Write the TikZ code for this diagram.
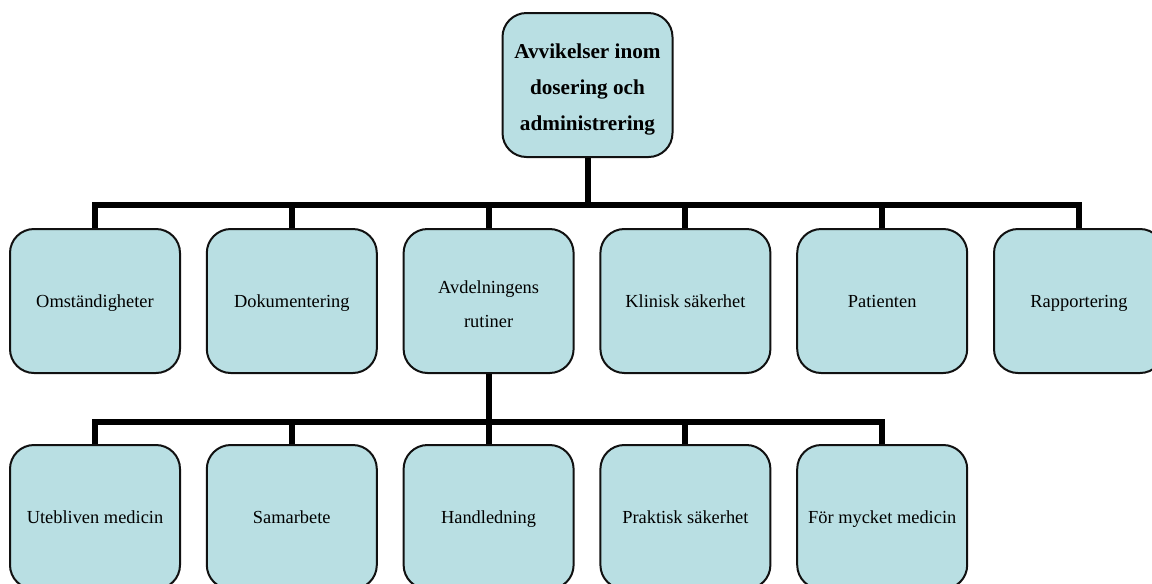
\documentclass[tikz,border=0pt]{standalone}
\usepackage{fontspec}
\setmainfont{Liberation Serif}
\usetikzlibrary{positioning,calc}
\definecolor{boxfill}{HTML}{B9DFE3}
\definecolor{boxline}{HTML}{111111}

\begin{document}
\begin{tikzpicture}[x=0.75pt,y=-0.75pt,
 leaf/.style={draw=boxline,line width=1.5pt,fill=boxfill,rounded corners=18pt,
  minimum width=127.5pt,minimum height=108pt,inner sep=2pt,align=center,
  execute at begin node=\strut,execute at end node=\strut,
  font=\fontsize{13.8}{25.5}\selectfont},
 root/.style={leaf,font=\bfseries\fontsize{15.9}{27}\selectfont},
 bus/.style={line width=4.5pt,line join=miter}]
\useasboundingbox (0,0) rectangle (1152,583);
\clip (0,0) rectangle (1152,583);
% top node
\node[root,text height=72pt,text depth=4.5pt] (top) at (587.5,85)
 {Avvikelser inom\\dosering och\\administrering};
\coordinate (bus1) at (587.5,205);
% first level
\foreach \n/\k/\lab in {omst/0/Omständigheter,doku/1/Dokumentering,
  klin/3/Klinisk säkerhet,pat/4/Patienten,rapp/5/Rapportering}
 \node[leaf] (\n) at ({95+196.8*\k},301) {\lab};
\node[leaf,text height=43.5pt,text depth=4.5pt] (avd) at (488.6,301)
 {Avdelningens\\rutiner};
\coordinate (bus2) at (488.6,422);
% second level
\foreach \n/\lab [count=\i from 0] in {uteb/Utebliven medicin,sam/Samarbete,
  handl/Handledning,prak/Praktisk säkerhet,mycket/För mycket medicin}
 \node[leaf] (\n) at ({95+196.8*\i},517) {\lab};
% connectors
\draw[bus] (top) -- (bus1);
\foreach \n in {omst,doku,avd,klin,pat,rapp}
 \draw[bus] (\n.north) |- (bus1);
\draw[bus] (avd) -- (bus2);
\foreach \n in {uteb,sam,handl,prak,mycket}
 \draw[bus] (\n.north) |- (bus2);
\end{tikzpicture}
\end{document}
